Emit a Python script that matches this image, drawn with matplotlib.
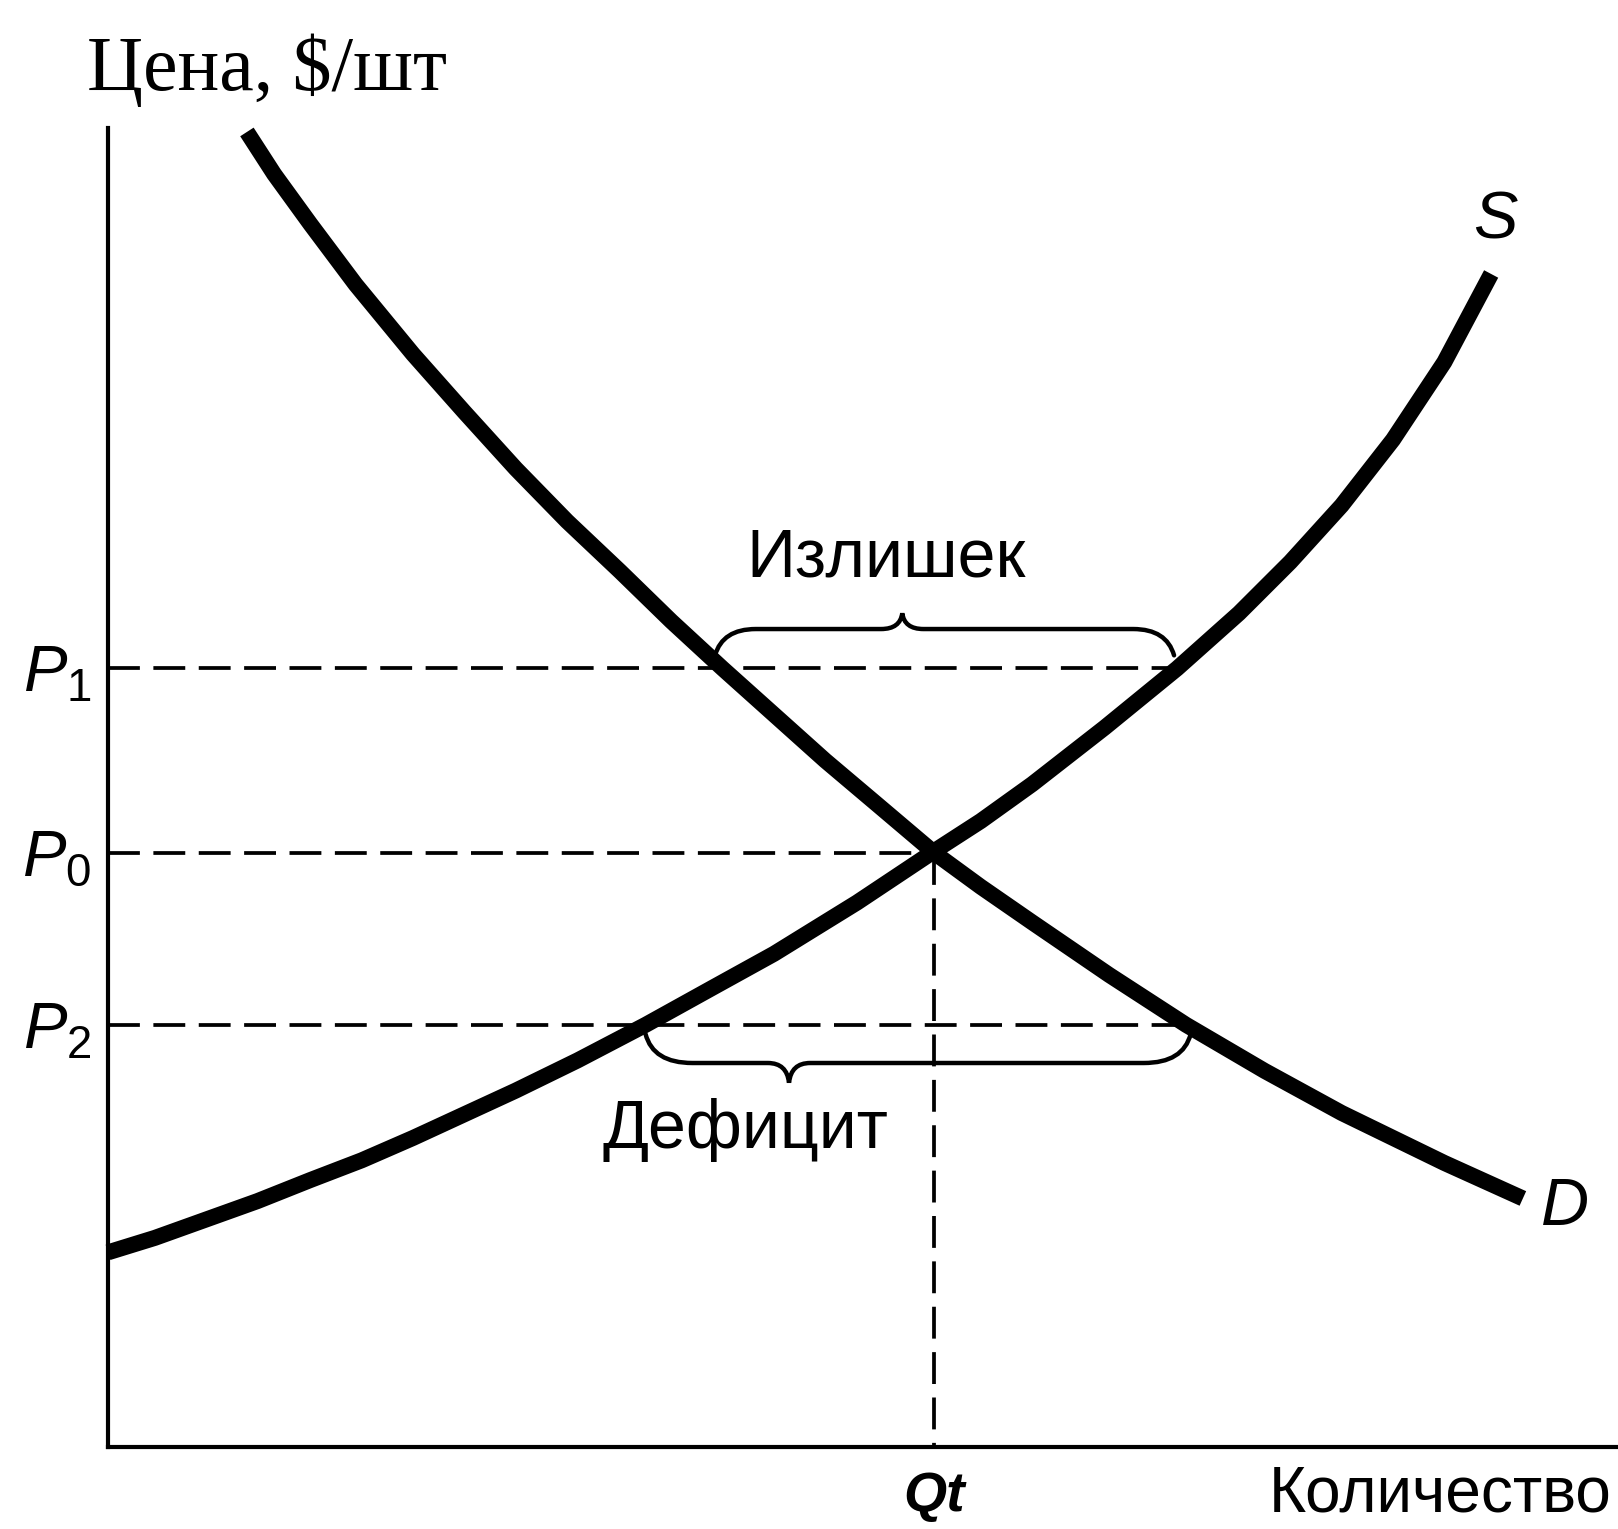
import numpy as np
import matplotlib
matplotlib.use("Agg")
import matplotlib.pyplot as plt
from matplotlib.path import Path
from matplotlib.patches import PathPatch

plt.rcParams['mathtext.fontset'] = 'custom'
plt.rcParams['mathtext.it'] = 'Liberation Sans:italic'
plt.rcParams['mathtext.rm'] = 'Liberation Sans'
plt.rcParams['mathtext.bf'] = 'Liberation Sans:bold'

# ---- data ----
supply_q = [0.00, 0.31, 0.65, 0.99, 1.34, 1.68, 2.02, 2.36, 2.70, 3.11, 3.56, 4.00,
            4.41, 4.96, 5.47, 5.78, 6.12, 6.60, 7.08, 7.49, 7.83, 8.17, 8.51, 8.85, 9.16]
supply_p = [1.48, 1.59, 1.73, 1.87, 2.03, 2.18, 2.35, 2.53, 2.71, 2.94, 3.21, 3.49,
            3.75, 4.14, 4.53, 4.76, 5.04, 5.47, 5.92, 6.34, 6.73, 7.16, 7.66, 8.25, 8.92]

demand_q = [0.92, 1.10, 1.34, 1.64, 2.02, 2.36, 2.70, 3.04, 3.39, 3.73, 4.07, 4.41,
            4.75, 5.09, 5.47, 5.78, 6.12, 6.63, 7.14, 7.66, 8.17, 8.85, 9.37]
demand_p = [10.00, 9.68, 9.30, 8.84, 8.31, 7.87, 7.44, 7.04, 6.66, 6.28, 5.92, 5.57,
            5.22, 4.89, 4.52, 4.26, 3.99, 3.59, 3.21, 2.86, 2.54, 2.16, 1.89]

price_labels = [r'$P_1$', r'$P_0$', r'$P_2$']
price_values = [5.92, 4.52, 3.21]
q_eq = 5.47
q_label = 'Qt'

x_label = 'Количество'
y_label = 'Цена, $/шт'
surplus_label = 'Излишек'
deficit_label = 'Дефицит'

# ---- figure ----
W, H = 1618, 1529
fig = plt.figure(figsize=(W / 100, H / 100), dpi=100)
ax = fig.add_axes([108 / W, (H - 1447) / H, 1510 / W, 1319 / H])
ax.set_xlim(0, 10.0)
ax.set_ylim(0, 10.03)
for s in ['top', 'right']:
    ax.spines[s].set_visible(False)
for s in ['left', 'bottom']:
    ax.spines[s].set_linewidth(3)
    ax.spines[s].set_color('black')
ax.set_xticks([])
ax.set_yticks([])

# curves
ax.plot(supply_q, supply_p, color='black', lw=11.5, solid_capstyle='butt',
        solid_joinstyle='round', clip_on=False, zorder=3)
ax.plot(demand_q, demand_p, color='black', lw=11.5, solid_capstyle='butt',
        solid_joinstyle='round', clip_on=False, zorder=3)

def q_supply(p):
    return np.interp(p, supply_p, supply_q)

def q_demand(p):
    return np.interp(p, demand_p[::-1], demand_q[::-1])

dash = (8.5, 3.6)
p1, p0, p2 = price_values
ax.plot([0, q_supply(p1)], [p1, p1], color='black', lw=2.7, dashes=dash, zorder=2)
ax.plot([0, q_eq], [p0, p0], color='black', lw=2.7, dashes=dash, zorder=2)
ax.plot([0, q_demand(p2)], [p2, p2], color='black', lw=2.7, dashes=dash, zorder=2)
ax.plot([q_eq, q_eq], [p0, 0], color='black', lw=2.7, dashes=dash, zorder=2)

# price labels
for lab, p in zip(price_labels, price_values):
    ax.text(-0.11, p - 0.18, lab, ha='right', va='baseline', fontsize=47,
            color='black', clip_on=False)

# braces
def brace(x0, x1, y_end, y_flat, x_tip, y_tip, r, d):
    verts = [(x0, y_end), (x0 + 0.05, y_flat), (x0 + r, y_flat),
             (x_tip - d, y_flat), (x_tip - d * 0.1, y_flat), (x_tip, y_tip),
             (x_tip + d * 0.1, y_flat), (x_tip + d, y_flat),
             (x1 - r, y_flat), (x1 - 0.05, y_flat), (x1, y_end)]
    codes = [Path.MOVETO, Path.CURVE3, Path.CURVE3, Path.LINETO,
             Path.CURVE3, Path.CURVE3, Path.CURVE3, Path.CURVE3,
             Path.LINETO, Path.CURVE3, Path.CURVE3]
    ax.add_patch(PathPatch(Path(verts, codes), fill=False, lw=3.2,
                           edgecolor='black', zorder=2, capstyle='round'))

brace(q_demand(p1) - 0.05, q_supply(p1) - 0.02, p1 + 0.10, p1 + 0.30,
      5.26, p1 + 0.42, 0.27, 0.14)
brace(q_supply(p2), q_demand(p2) + 0.03, p2 - 0.07, p2 - 0.29,
      4.51, p2 - 0.44, 0.31, 0.14)

ax.text(5.15, 6.62, surplus_label, ha='center', va='baseline', fontsize=49,
        family='Liberation Sans')
ax.text(4.22, 2.27, deficit_label, ha='center', va='baseline', fontsize=49,
        family='Liberation Sans')

# curve labels
ax.text(9.19, 9.32, 'S', ha='center', va='center', fontsize=48,
        style='italic', family='Liberation Sans', clip_on=False)
ax.text(9.65, 1.82, 'D', ha='center', va='center', fontsize=48,
        style='italic', family='Liberation Sans', clip_on=False)

# axis labels
ax.text(q_eq, -0.49, q_label, ha='center', va='baseline', fontsize=40,
        style='italic', weight='bold', family='Liberation Sans', clip_on=False)
ax.text(9.96, -0.49, x_label, ha='right', va='baseline', fontsize=46,
        family='Liberation Sans', clip_on=False)
ax.text(-0.14, 10.32, y_label, ha='left', va='baseline', fontsize=56,
        family='Liberation Serif', clip_on=False)

fig.savefig('out.png', dpi=100)
